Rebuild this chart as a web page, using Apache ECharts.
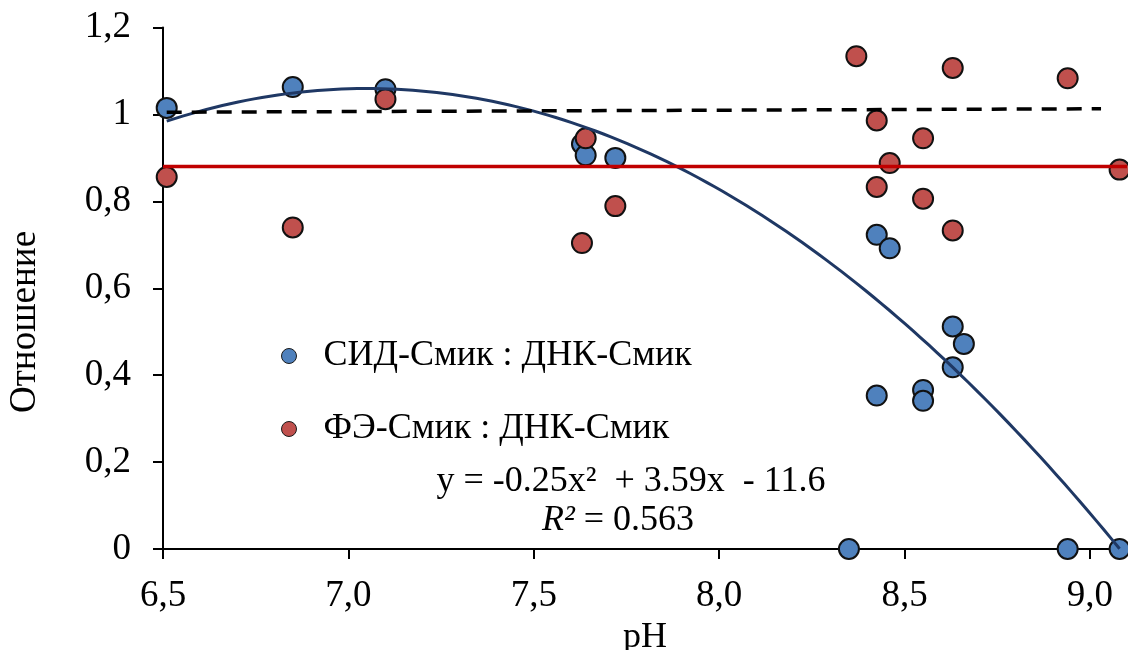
<!DOCTYPE html>
<html>
<head>
<meta charset="utf-8">
<script src="https://cdn.jsdelivr.net/npm/echarts@6/dist/echarts.min.js"></script>
<style>
html,body{margin:0;padding:0;background:#fff;}
#chart{width:1128px;height:650px;}
</style>
</head>
<body>
<div id="chart"></div>
<script>
// pH values and ratios
const sidPH    = [6.51, 6.85, 7.10, 7.63, 7.64, 7.72, 8.35, 8.425, 8.425, 8.46, 8.55, 8.55, 8.63, 8.63, 8.66, 8.94, 9.08];
const sidRatio = [1.015, 1.063, 1.058, 0.932, 0.906, 0.900, 0.0, 0.723, 0.353, 0.692, 0.366, 0.341, 0.512, 0.418, 0.472, 0.0, 0.0];
const feRatioPH = [6.51, 6.85, 7.10, 7.63, 7.64, 7.72, 8.37, 8.425, 8.425, 8.46, 8.55, 8.55, 8.63, 8.63, 8.94, 9.08];
const feRatio   = [0.856, 0.740, 1.035, 0.704, 0.945, 0.789, 1.134, 0.986, 0.833, 0.888, 0.945, 0.806, 1.107, 0.733, 1.083, 0.873];
// reference lines
const feMeanLine = [[6.5, 0.880], [9.1, 0.880]];
const dashedLine = [[6.51, 1.005], [9.03, 1.013]];
// polynomial trendline of the blue series (y = a x^2 + b x + c), range
const trendCoef = [-0.257, 3.6237, -11.714];
const trendRange = [6.51, 9.08];
const xTicks = [6.5, 7.0, 7.5, 8.0, 8.5, 9.0];
const seriesNames = ['СИД-Смик : ДНК-Смик', 'ФЭ-Смик : ДНК-Смик'];
const yTitle = 'Отношение';
const eqText = 'y = -0.25x²  + 3.59x  - 11.6';
const r2Value = '0.563';

const sidData = sidPH.map((x, i) => [x, sidRatio[i]]);
const feData = feRatioPH.map((x, i) => [x, feRatio[i]]);
const trendData = [];
for (let k = 0; k <= 120; k++) {
  const x = trendRange[0] + (trendRange[1] - trendRange[0]) * k / 120;
  trendData.push([x, trendCoef[0] * x * x + trendCoef[1] * x + trendCoef[2]]);
}

const FONT = '"Liberation Serif", "Times New Roman", serif';
const chart = echarts.init(document.getElementById('chart'), null, {renderer: 'canvas'});
chart.setOption({
  animation: false,
  backgroundColor: '#ffffff',
  textStyle: {fontFamily: FONT, color: '#000'},
  grid: {left: 163, right: 1, top: 27.5, bottom: 101, containLabel: false, outerBoundsMode: 'none'},
  legend: {
    data: seriesNames,
    orient: 'vertical',
    left: 276,
    top: 331,
    itemGap: 33,
    itemWidth: 15,
    itemHeight: 15,
    icon: 'circle',
    itemStyle: {borderColor: '#1a1a1a', borderWidth: 1},
    textStyle: {fontFamily: FONT, fontSize: 36, color: '#000', lineHeight: 40, padding: [0, 0, 0, 22]}
  },
  xAxis: {
    type: 'value',
    min: 6.5, max: 9.1, interval: 0.5,
    name: 'pH', nameLocation: 'middle', nameGap: 66,
    nameTextStyle: {fontFamily: FONT, fontSize: 36, color: '#000'},
    splitLine: {show: false},
    axisLine: {lineStyle: {color: '#000', width: 2}},
    axisTick: {show: true, length: 10, lineStyle: {color: '#000', width: 2}, customValues: xTicks},
    axisLabel: {
      customValues: xTicks,
      fontFamily: FONT, fontSize: 37, color: '#000', margin: 29,
      formatter: v => v.toFixed(1).replace('.', ',')
    }
  },
  yAxis: {
    type: 'value',
    min: 0, max: 1.2, interval: 0.2,
    splitLine: {show: false},
    axisLine: {show: true, lineStyle: {color: '#000', width: 2}},
    axisTick: {show: true, length: 10, lineStyle: {color: '#000', width: 2}},
    axisLabel: {
      fontFamily: FONT, fontSize: 37, color: '#000', margin: 32,
      formatter: v => String(Math.round(v * 10) / 10).replace('.', ',')
    }
  },
  series: [
    {
      name: seriesNames[0], type: 'scatter', data: sidData, symbol: 'circle', symbolSize: 20, z: 3,
      itemStyle: {color: '#4F81BD', borderColor: '#111', borderWidth: 2, opacity: 1}
    },
    {
      name: seriesNames[1], type: 'scatter', data: feData, symbol: 'circle', symbolSize: 20, z: 4,
      itemStyle: {color: '#C0504D', borderColor: '#111', borderWidth: 2, opacity: 1}
    },
    {
      name: 'trend', type: 'line', data: trendData, showSymbol: false, symbol: 'none', z: 5,
      lineStyle: {color: '#1F3864', width: 3}
    },
    {
      name: 'mean', type: 'line', data: feMeanLine, showSymbol: false, symbol: 'none', z: 5,
      lineStyle: {color: '#C00000', width: 3.5}
    },
    {
      name: 'dash', type: 'line', data: dashedLine, showSymbol: false, symbol: 'none', z: 5,
      lineStyle: {color: '#000', width: 3.5, type: [15, 10]}
    }
  ],
  graphic: [
    {
      type: 'text', x: 25, y: 322, rotation: Math.PI / 2, z: 10,
      style: {text: yTitle, font: '37px ' + FONT, fill: '#000', align: 'center', verticalAlign: 'middle'}
    },
    {
      type: 'text', x: 631, y: 482, z: 10,
      style: {text: eqText, font: '36px ' + FONT, fill: '#000', align: 'center', verticalAlign: 'middle'}
    },
    {
      type: 'text', x: 618, y: 521, z: 10,
      style: {
        text: '{i|R²} = ' + r2Value,
        font: '36px ' + FONT, fill: '#000', align: 'center', verticalAlign: 'middle',
        rich: {i: {fontStyle: 'italic', fontFamily: FONT, fontSize: 36, fill: '#000'}}
      }
    }
  ]
});
</script>
</body>
</html>
